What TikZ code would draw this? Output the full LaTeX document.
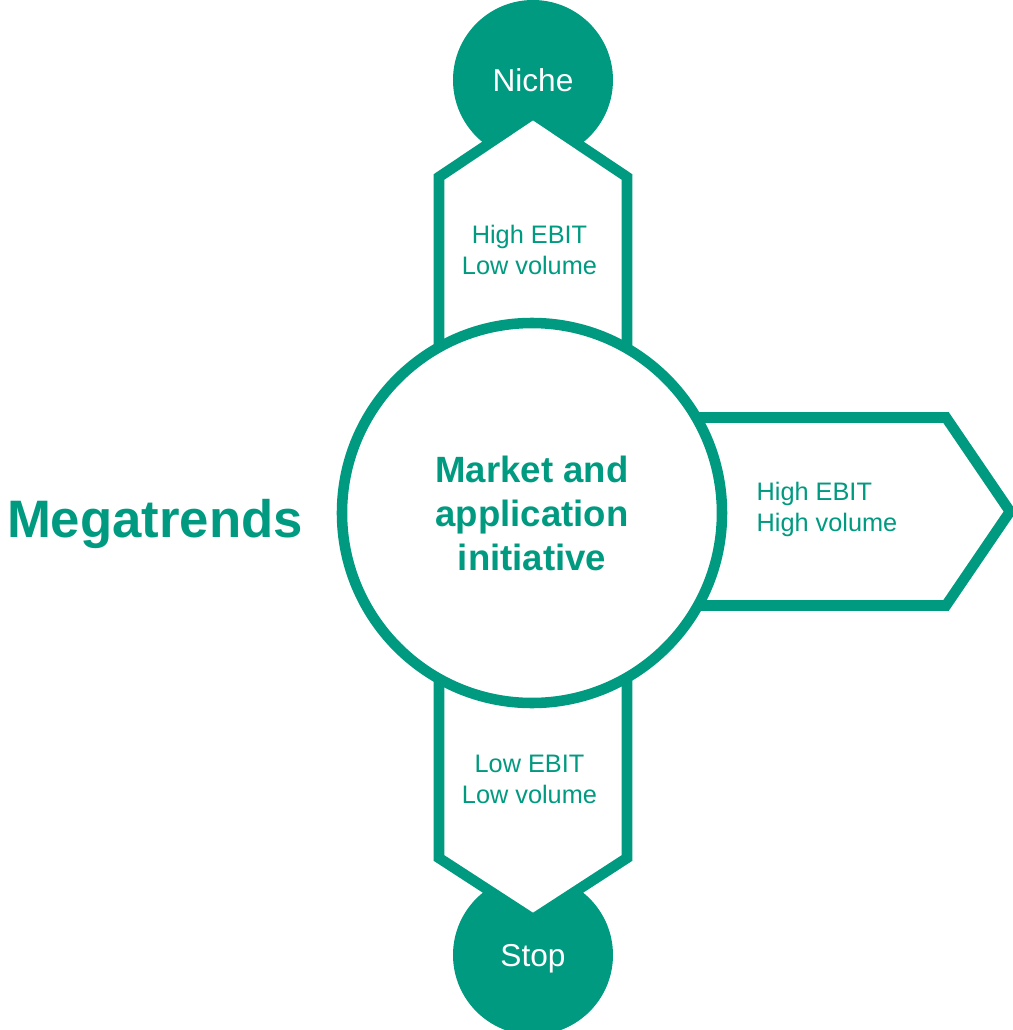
\documentclass[tikz,border=0pt]{standalone}
\usepackage{fontspec}
\setmainfont{Liberation Sans}
\definecolor{mtgreen}{RGB}{0,154,128}

\begin{document}
\begin{tikzpicture}[
      dot/.style={circle, fill=mtgreen, text=white, minimum size=1.6cm,
        inner sep=0pt, text depth=0pt, font=\fontsize{9}{10}\selectfont},
      hub/.style={circle, draw=mtgreen, line width=3pt, fill=white,
        minimum size=3.8cm, inner sep=0pt, align=center, text=mtgreen,
        font=\bfseries\fontsize{10.4}{12.5}\selectfont},
      lane/.style={draw=mtgreen, line width=3pt, fill=white},
      tag/.style={text=mtgreen, inner sep=0pt, font=\fontsize{7.2}{8.8}\selectfont},
    ]
    \useasboundingbox (-5.32,-5.13) rectangle (4.81,5.17);
    \node[dot] (niche) at (0.01,4.37) {Niche};
    \node[dot] (stop) at (0.01,-4.38) {Stop};
    % arms behind the hub
    \draw[lane] (-0.93,1.0) -- (-0.93,3.40) -- (0.01,4.03) -- (0.95,3.40) -- (0.95,1.0) -- cycle;
    \draw[lane] (-0.93,-1.0) -- (-0.93,-3.41) -- (0.01,-4.02) -- (0.95,-3.41) -- (0.95,-1.0) -- cycle;
    \draw[lane] (1.0,0.995) -- (4.14,0.995) -- (4.78,0.055) -- (4.14,-0.885) -- (1.0,-0.885) -- cycle;
    \node[hub] (hub) at (0,0.04) {Market and\\application\\initiative};
    \node[tag, align=center] (up) at (-0.025,2.675) {High EBIT\\Low volume};
    \node[tag, align=center] (down) at (-0.025,-2.625) {Low EBIT\\Low volume};
    \node[tag, align=left, anchor=west] (right) at (2.24,0.075) {High EBIT\\High volume};
    \node[text=mtgreen, inner sep=0pt, anchor=base,
      font=\bfseries\fontsize{15}{17}\selectfont] (mega) at (-3.77,-0.20) {Megatrends};
  \end{tikzpicture}
\end{document}
